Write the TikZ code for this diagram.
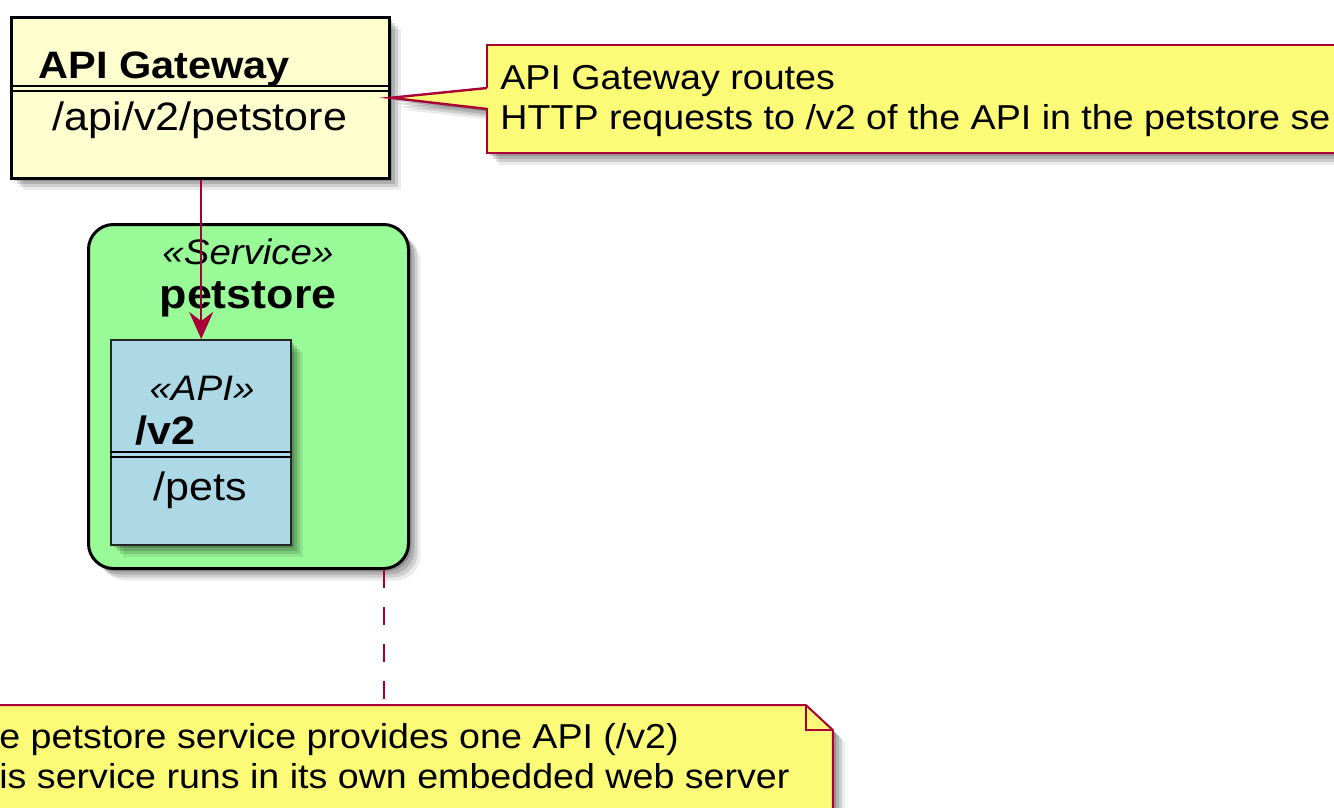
\documentclass[tikz,border=0pt]{standalone}
\usepackage{fontspec}
\setmainfont{Liberation Sans}[FakeStretch=1.087]
\usetikzlibrary{arrows.meta}
\definecolor{classbg}{HTML}{FEFECE}
\definecolor{notebg}{HTML}{FBFB77}
\definecolor{plumred}{HTML}{A80036}
\definecolor{svcbg}{HTML}{98FB98}
\definecolor{apibg}{HTML}{ADD8E6}

\begin{document}
\begin{tikzpicture}[x=0.5pt, y=-0.5pt,
	soft shadow/.style={
		preaction={draw=none, fill=black, opacity=0.16, transform canvas={xshift=1.5pt, yshift=-1.5pt}},
		preaction={draw=none, fill=black, opacity=0.15, transform canvas={xshift=3pt, yshift=-3pt}},
		preaction={draw=none, fill=black, opacity=0.12, transform canvas={xshift=4.5pt, yshift=-4.5pt}},
		preaction={draw=none, fill=black, opacity=0.08, transform canvas={xshift=6pt, yshift=-6pt}}},
	classbox/.style={draw=black, line width=1.3pt, fill=classbg, soft shadow, anchor=north west, inner sep=0pt},
	svcbox/.style={draw=black, line width=1.5pt, fill=svcbg, rounded corners=12.5pt, soft shadow, anchor=north west, inner sep=0pt},
	apibox/.style={draw=black!85, line width=1.2pt, fill=apibg, soft shadow, anchor=north west, inner sep=0pt},
	notebox/.style={draw=plumred, line width=1pt, fill=notebg, soft shadow, anchor=north west, inner sep=0pt},
	notearea/.style={anchor=north west, inner sep=0pt},
	sepline/.style={draw=black, line width=1pt},
	title/.style={font=\fontsize{19.1}{22}\selectfont\bfseries, inner sep=0pt},
	member/.style={font=\fontsize{19.8}{23}\selectfont, inner sep=0pt},
	stereo/.style={font=\fontsize{17.7}{21}\selectfont\itshape, inner sep=0pt},
	notetext/.style={font=\fontsize{17.3}{20}\selectfont, inner sep=0pt, anchor=base west},
	link/.style={draw=plumred, fill=plumred, line width=1pt, -{Stealth[length=13.5pt, width=12pt, inset=4.5pt]}},
	notelink/.style={draw=plumred, line width=1pt}]

	\useasboundingbox (0,0) rectangle (1334,808);
	\clip (0,0) rectangle (1334,808);

	\node[classbox, minimum width=189pt, minimum height=80.5pt] (gw) at (10,16) {};
	\node[title, anchor=base west] (gwname) at (38,79) {API Gateway};
	\draw[sepline] (gw.west |- 0,86) -- (gw.east |- 0,86);
	\draw[sepline] (gw.west |- 0,91) -- (gw.east |- 0,91);
	\node[member, anchor=base] (gwpath) at (200,131) {/api/v2/petstore};

	\node[notearea, minimum width=431.5pt, minimum height=53.5pt] (gwnote) at (487,45) {};
	\fill[notebg, soft shadow] (gw.east) -- (gwnote.west |- 0,88) -- (gwnote.west |- 0,109) -- cycle;
	\path[notebox] (gwnote.north west) rectangle (gwnote.south east);
	\fill[notebg] ([xshift=-1pt]gwnote.west |- 0,88.5) rectangle ([xshift=1pt]gwnote.west |- 0,108.5);
	\draw[notelink, line width=1.2pt] (gwnote.west |- 0,88) -- (gw.east) -- (gwnote.west |- 0,109);
	\node[notetext] (gwnotea) at (500,90) {API Gateway routes};
	\node[notetext] (gwnoteb) at (500,130) {HTTP requests to /v2 of the API in the petstore se};

	\node[svcbox, minimum width=160pt, minimum height=172pt] (svc) at (87,223) {};
	\node[stereo, anchor=base] (svcstereo) at (248,264) {«Service»};
	\node[font=\fontsize{20.6}{24}\selectfont\bfseries, inner sep=0pt, anchor=base] (svcname) at (248,308) {petstore};

	\node[apibox, minimum width=90pt, minimum height=102.5pt] (api) at (110,339) {};
	\node[stereo, anchor=base] (apistereo) at (202,400) {«API»};
	\node[title, font=\fontsize{19.8}{23}\selectfont\bfseries, anchor=base west] (apiname) at (135,444) {/v2};
	\draw[sepline] (api.west |- 0,452) -- (api.east |- 0,452);
	\draw[sepline] (api.west |- 0,457) -- (api.east |- 0,457);
	\node[member, anchor=base] (apipets) at (200,500) {/pets};

	\draw[link] (api.north |- gw.south) -- (api.north);

	\node[notearea, minimum width=441pt, minimum height=72.5pt] (svcnote) at (-50,705) {};
	\path[notebox] (svcnote.north west) -- ([xshift=-13.5pt]svcnote.north east) -- ([yshift=-12.5pt]svcnote.north east) -- (svcnote.south east) -- (svcnote.south west) -- cycle;
	\draw[notelink] ([xshift=-13.5pt]svcnote.north east) |- ([yshift=-12.5pt]svcnote.north east);
	\node[notetext] (svcnotea) at (-1,748) {e petstore service provides one API (/v2)};
	\node[notetext] (svcnoteb) at (-1,788) {is service runs in its own embedded web server};

	\draw[notelink, dash pattern=on 9pt off 9.5pt] (svc.south -| 384,0) -- (svcnote.north -| 384,0);

\end{tikzpicture}
\end{document}
